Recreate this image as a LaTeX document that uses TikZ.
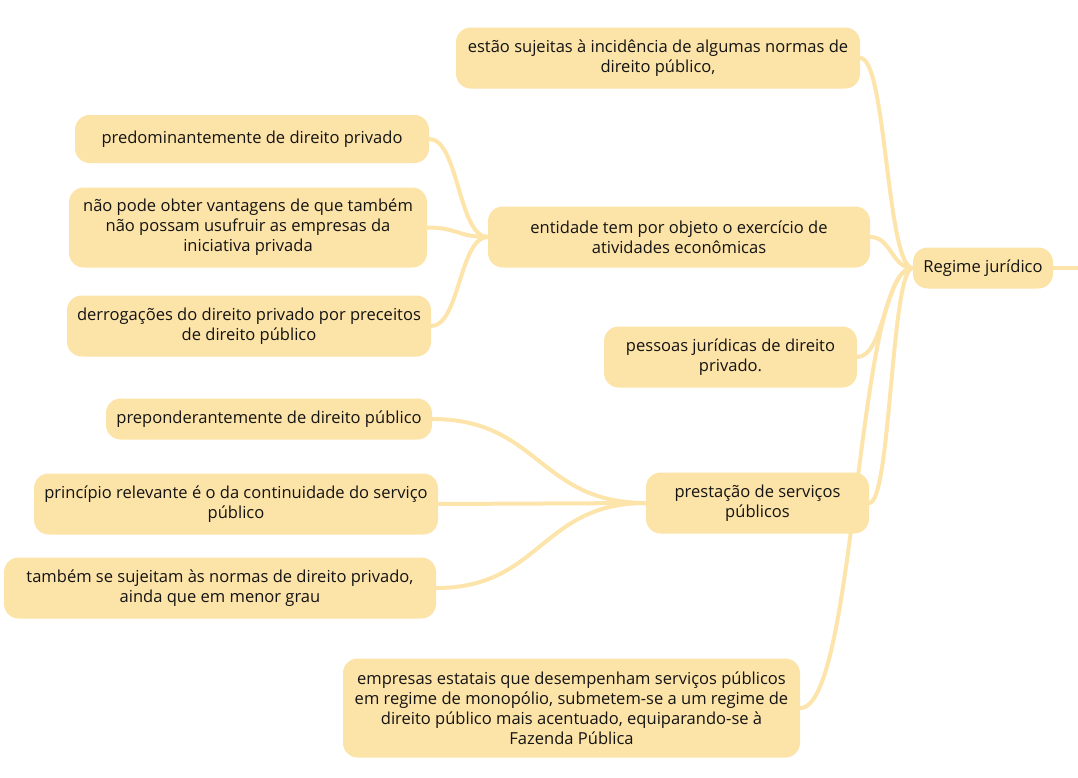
\documentclass[tikz,border=0pt]{standalone}
\usepackage{fontspec}
\setmainfont{Open Sans}
\usetikzlibrary{calc,backgrounds}
\definecolor{boxfill}{HTML}{FCE3A7}
\definecolor{linecol}{HTML}{FCE4AB}
\definecolor{txtcol}{HTML}{141414}
\tikzset{
  mmbox/.style={fill=boxfill, rounded corners=11pt, inner sep=0pt, align=center,
    text=txtcol, font=\fontsize{12.4pt}{15pt}\selectfont},
  connline/.style={draw=linecol, line width=3pt, line cap=round}
}
\newcommand\mmconn[2]{\draw[connline] let \p1=(#1), \p2=(#2) in (\p1) .. controls ({0.5*(\x1+\x2)},\y1) and ({0.5*(\x1+\x2)},\y2) .. (\p2);}
\begin{document}
\begin{tikzpicture}[x=0.75pt,y=-0.75pt]
\useasboundingbox (0,0) rectangle (1078,778);
\node[mmbox, minimum width=303pt, minimum height=45.75pt] (est) at (658,58) {estão sujeitas à incidência de algumas normas de\\direito público,};
\node[mmbox, minimum width=105pt, minimum height=30.75pt] (reg) at (983,268) {Regime jurídico};
\node[mmbox, minimum width=286.5pt, minimum height=45.75pt] (ent) at (679,237) {entidade tem por objeto o exercício de\\atividades econômicas};
\node[mmbox, minimum width=265.5pt, minimum height=36pt] (pred) at (252,139) {predominantemente de direito privado};
\node[mmbox, minimum width=268.5pt, minimum height=60pt] (nao) at (248,227.5) {não pode obter vantagens de que também\\não possam usufruir as empresas da\\iniciativa privada};
\node[mmbox, minimum width=273pt, minimum height=45.75pt] (der) at (249,326) {derrogações do direito privado por preceitos\\de direito público};
\node[mmbox, minimum width=189.75pt, minimum height=45.75pt] (pes) at (730.5,357) {pessoas jurídicas de direito\\privado.};
\node[mmbox, minimum width=244.5pt, minimum height=30.75pt] (prep) at (269,419) {preponderantemente de direito público};
\node[mmbox, minimum width=167.25pt, minimum height=45.75pt] (prest) at (757.5,503) {prestação de serviços\\públicos};
\node[mmbox, minimum width=303pt, minimum height=45.75pt] (prin) at (236,504) {princípio relevante é o da continuidade do serviço\\público};
\node[mmbox, minimum width=324pt, minimum height=45.75pt] (tamb) at (220,588) {também se sujeitam às normas de direito privado,\\ainda que em menor grau};
\node[mmbox, minimum width=342.75pt, minimum height=74.25pt] (emp) at (571.5,708) {empresas estatais que desempenham serviços públicos\\em regime de monopólio, submetem-se a um regime de\\direito público mais acentuado, equiparando-se à\\Fazenda Pública};
\coordinate (out) at (1082,268);
\begin{pgfonlayer}{background}
\mmconn{est.east}{reg.west}
\mmconn{ent.east}{reg.west}
\mmconn{pes.east}{reg.west}
\mmconn{prest.east}{reg.west}
\mmconn{emp.east}{reg.west}
\mmconn{reg.east}{out}
\mmconn{pred.east}{ent.west}
\mmconn{nao.east}{ent.west}
\mmconn{der.east}{ent.west}
\mmconn{prep.east}{prest.west}
\mmconn{prin.east}{prest.west}
\mmconn{tamb.east}{prest.west}
\end{pgfonlayer}
\end{tikzpicture}
\end{document}
